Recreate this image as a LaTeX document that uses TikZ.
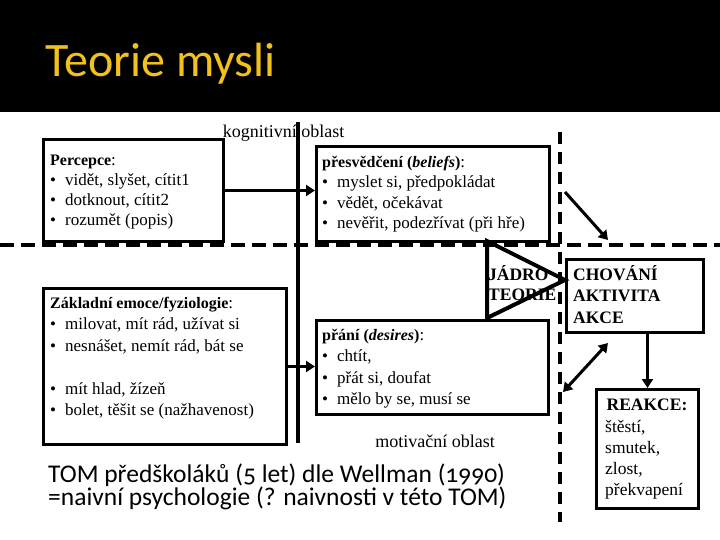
\documentclass[tikz,border=0pt]{standalone}
\usepackage{fontspec}
\setmainfont{Liberation Serif}
\newfontfamily\calib[Numbers=OldStyle]{Carlito}
\usetikzlibrary{arrows.meta}
\definecolor{titley}{RGB}{243,193,27}
\newcommand{\bul}{\textbullet\hspace{9pt}}
\newcommand{\tstrut}{\rule{0pt}{20pt}}
\newcommand{\hd}[1]{{\fontsize{16}{20}\selectfont\textbf{#1}}}
\begin{document}
\begin{tikzpicture}[x=1pt,y=-1pt,
 boxst/.style={draw, fill=white, line width=3pt, rectangle, inner sep=0pt, anchor=north west},
 txt/.style={font=\fontsize{17}{21}\selectfont, inner sep=0pt, anchor=north west, align=left},
 lbl/.style={font=\fontsize{18}{21}\selectfont, inner sep=0pt, anchor=base},
 arr/.style={line width=3pt, -{Triangle[length=9pt,width=11pt]}},
 darr/.style={line width=3pt, {Triangle[length=9pt,width=11pt]}-{Triangle[length=9pt,width=11pt]}},
 hdash/.style={line width=4pt, dash pattern=on 14pt off 7pt},
 vdash/.style={line width=4pt, dash pattern=on 12pt off 8pt},
]
\useasboundingbox (0,0) rectangle (720,540);
\fill[white] (0,0) rectangle (720,540);
\fill[black] (0,0) rectangle (720,112);
\node[anchor=base west, inner sep=0pt, font=\calib\fontsize{48}{52}\selectfont, text=titley] (title) at (45,77) {Teorie mysli};

% region labels
\node[lbl] (kog) at (283.5,138) {kognitivní oblast};
\node[lbl] (mot) at (435,447) {motivační oblast};

% dashed separators
\coordinate (hl) at (0,245);
\coordinate (hr) at (720,245);
\draw[hdash] (hl) -- (hr);
\coordinate (vdt) at (560,132);
\coordinate (vdb) at (560,522);
\draw[vdash] (vdt) -- (vdb);

% solid vertical line
\coordinate (vtop) at (298,122);
\coordinate (vbot) at (298,443);
\draw[line width=4pt] (vtop) -- (vbot);

% boxes
\node[boxst, minimum width=180pt, minimum height=102pt] (perc) at (42,138) {};
\node[boxst, minimum width=233pt, minimum height=95pt] (bel) at (315,145) {};
\node[boxst, minimum width=243pt, minimum height=156pt] (emo) at (42,287) {};
\node[boxst, minimum width=232pt, minimum height=94pt] (des) at (315,319) {};
\node[boxst, minimum width=137pt, minimum height=73pt] (chov) at (565,258) {};
\node[boxst, minimum width=102pt, minimum height=119pt] (reak) at (595,388) {};

% box texts
\node[txt, font=\fontsize{17}{20}\selectfont] (perct) at (50,145) {\tstrut\hd{Percepce}:\\ \bul vidět, slyšet, cítit1\\ \bul dotknout, cítit2\\ \bul rozumět (popis)};
\node[txt, font=\fontsize{17}{20.5}\selectfont] (belt) at (322,147) {\tstrut\hd{přesvědčení (\textit{beliefs})}:\\ \bul myslet si, předpokládat\\ \bul vědět, očekávat\\ \bul nevěřit, podezřívat (při hře)};
\node[txt, font=\fontsize{17}{21.5}\selectfont] (emot) at (50,288) {\tstrut\hd{Základní emoce/fyziologie}:\\ \bul milovat, mít rád, užívat si\\ \bul nesnášet, nemít rád, bát se\\[21.5pt] \bul mít hlad, žízeň\\ \bul bolet, těšit se (nažhavenost)};
\node[txt, font=\fontsize{17}{21.5}\selectfont] (dest) at (322,320) {\tstrut\hd{přání (\textit{desires})}:\\ \bul chtít,\\ \bul přát si, doufat\\ \bul mělo by se, musí se};
\node[txt, font=\bfseries\fontsize{17.5}{21.5}\selectfont] (chovt) at (573,260) {\tstrut CHOVÁNÍ\\ AKTIVITA\\ AKCE};
\node[lbl, font=\bfseries\fontsize{17.5}{21}\selectfont] (reakh) at (647,410) {REAKCE:};
\node[txt, font=\fontsize{17.5}{21.2}\selectfont] (reakt) at (605,412) {\tstrut štěstí,\\ smutek,\\ zlost,\\ překvapení};

% core of the theory
\coordinate (tri1) at (487,241);
\coordinate (tri2) at (565,280);
\coordinate (tri3) at (487,318);
\draw[line width=4pt, line join=miter] (tri1) -- (tri2) -- (tri3) -- cycle;
\node[txt, font=\bfseries\fontsize{17.5}{20}\selectfont] (jadro) at (488,260) {\tstrut JÁDRO\\ TEORIE};

% arrows
\draw[arr] (perc.east) -- (perc.east -| bel.west);
\draw[arr] (emo.east) -- (emo.east -| des.west);
\draw[arr] (reak.north |- chov.south) -- (reak.north);
\coordinate (a1) at (565,192);
\coordinate (a2) at (608,240);
\draw[arr] (a1) -- (a2);
\coordinate (d1) at (563,392);
\coordinate (d2) at (608,343);
\draw[darr] (d1) -- (d2);

% caption
\node[txt, font=\calib\fontsize{25.5}{21}\selectfont] (tom) at (48,462) {\tstrut TOM předškoláků (5 let) dle Wellman (1990)\\=naivní psychologie (? naivnosti v této TOM)};
\end{tikzpicture}
\end{document}
